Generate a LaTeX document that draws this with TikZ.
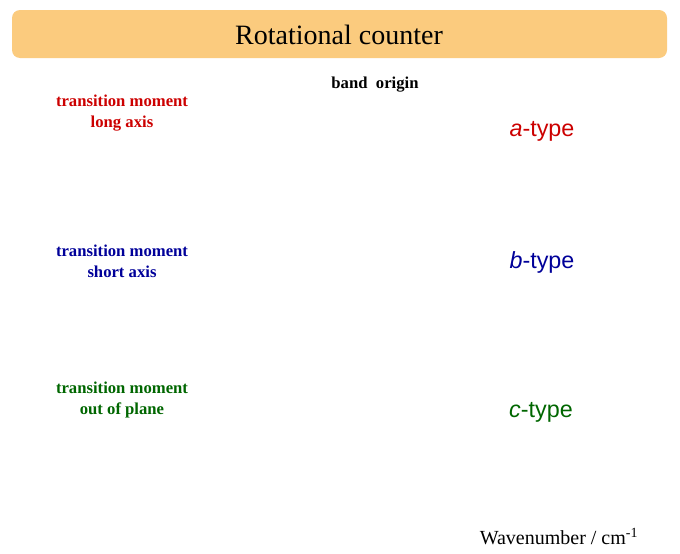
\documentclass[tikz,border=0pt]{standalone}
\usepackage{fontspec}
\setmainfont{Liberation Serif}
\setsansfont{Liberation Sans}
\definecolor{boxfill}{HTML}{FBCB7E}
\definecolor{lred}{HTML}{CC0000}
\definecolor{lblue}{HTML}{000099}
\definecolor{lgreen}{HTML}{006600}
\begin{document}
\begin{tikzpicture}[x=0.75pt,y=-0.75pt,
  lab/.style={font=\bfseries\fontsize{12.5}{16}\selectfont,align=center,inner sep=0pt},
  typ/.style={font=\sffamily\fontsize{17.5}{20}\selectfont,inner sep=0pt}]
\useasboundingbox (0,0) rectangle (680,553);
\node[fill=boxfill,rounded corners=6pt,minimum width=655*0.75pt,minimum height=48*0.75pt,inner sep=0pt] (title) at (339.5,34) {};
\node[font=\fontsize{21}{24}\selectfont] (tt) at (339,35) {Rotational counter};
\node[lab,text=lred] (l1) at (122,113) {transition moment\\long axis};
\node[lab,text=lblue] (l2) at (122,261) {transition moment\\short axis};
\node[lab,text=lgreen] (l3) at (122,400) {transition moment\\out of plane};
\node[lab,font=\bfseries\fontsize{12.5}{16}\selectfont] (bo) at (375,85) {band\ \ origin};
\node[typ,text=lred] (a) at (542,131) {\textit{a}-type};
\node[typ,text=lblue] (b) at (542,262) {\textit{b}-type};
\node[typ,text=lgreen] (c) at (541,412) {\textit{c}-type};
\node[font=\fontsize{15}{17}\selectfont,inner sep=0pt] (w) at (559,537) {Wavenumber / cm\textsuperscript{-1}};
\end{tikzpicture}
\end{document}
